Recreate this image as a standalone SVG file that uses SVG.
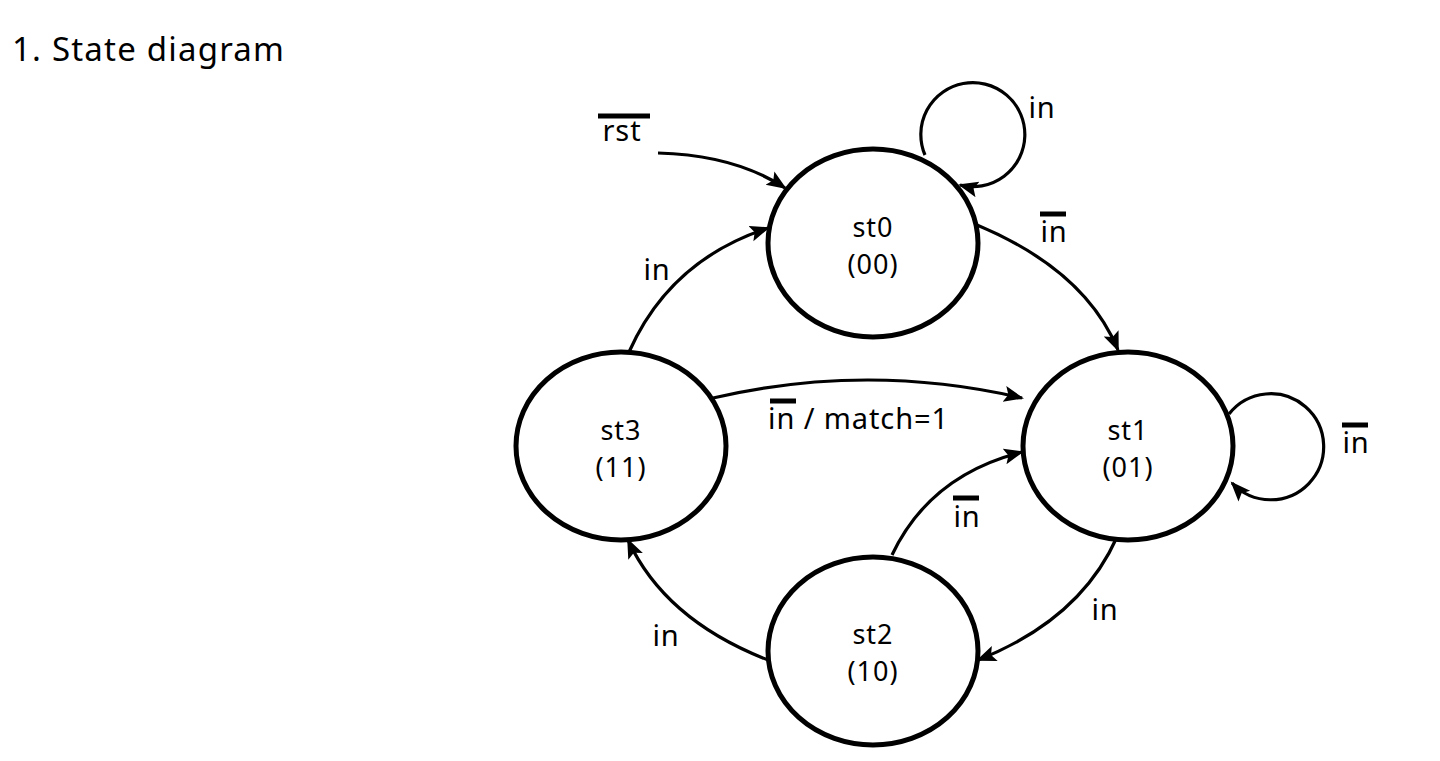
<svg xmlns="http://www.w3.org/2000/svg" width="1440" height="761" viewBox="0 0 1440 761">
<style>
text{font-family:"Noto Sans","Open Sans","DejaVu Sans",sans-serif;font-size:29px;letter-spacing:0.9px;fill:#000}
.t{text-anchor:middle}
.n{text-anchor:middle;font-size:27px;letter-spacing:1px}
.node{fill:#fff;stroke:#000;stroke-width:5}
.edge{fill:none;stroke:#000;stroke-width:3.2;marker-end:url(#ah)}
.bar{stroke:#000;stroke-width:5}
</style>
<defs>
<marker id="ah" markerUnits="userSpaceOnUse" markerWidth="22" markerHeight="18" refX="18" refY="8" orient="auto">
<path d="M0,0 L20,8 L0,16 L4,8 Z" fill="#000"/>
</marker>
</defs>
<rect width="1440" height="761" fill="#fff"/>
<text x="12" y="61" style="font-size:33px;letter-spacing:1.2px">1. State diagram</text>
<g id="connectors">
<path class="edge" d="M658,153 Q735,155 785,188"/>
<path class="edge" d="M925,155 A52,52 0 1 1 960,185"/>
<path class="edge" d="M977,225 Q1085,270 1118,350"/>
<path class="edge" d="M1229,414 A53,53 0 1 1 1232,483"/>
<path class="edge" d="M1117,537 Q1080,620 978,660"/>
<path class="edge" d="M768,660 Q665,620 628,540"/>
<path class="edge" d="M629,352 Q670,260 768,228"/>
<path class="edge" d="M713,398 Q868,362 1022,398"/>
<path class="edge" d="M892,555 Q930,475 1022,452"/>
</g>
<g id="labels">
<line class="bar" x1="598" y1="116" x2="650" y2="116"/>
<text class="t" x="622" y="141">rst</text>
<text class="t" x="1042" y="118">in</text>
<line class="bar" x1="1040" y1="214" x2="1066" y2="214"/>
<text class="t" x="1054" y="242">in</text>
<line class="bar" x1="1342" y1="425" x2="1368" y2="425"/>
<text class="t" x="1356" y="453">in</text>
<text class="t" x="1105" y="620">in</text>
<text class="t" x="666" y="646">in</text>
<text class="t" x="657" y="280">in</text>
<line class="bar" x1="770" y1="401" x2="796" y2="401"/>
<text x="768" y="429">in / match=1</text>
<line class="bar" x1="953" y1="498" x2="979" y2="498"/>
<text class="t" x="967" y="527">in</text>
</g>
<g id="st0"><ellipse class="node" cx="873" cy="243" rx="105" ry="94"/><text class="n" x="873" y="237">st0</text><text class="n" x="873" y="274">(00)</text></g>
<g id="st1"><ellipse class="node" cx="1128" cy="446" rx="105" ry="94"/><text class="n" x="1128" y="440">st1</text><text class="n" x="1128" y="477">(01)</text></g>
<g id="st2"><ellipse class="node" cx="873" cy="651" rx="105" ry="94"/><text class="n" x="873" y="644">st2</text><text class="n" x="873" y="681">(10)</text></g>
<g id="st3"><ellipse class="node" cx="621" cy="446" rx="105" ry="94"/><text class="n" x="621" y="440">st3</text><text class="n" x="621" y="477">(11)</text></g>
</svg>
